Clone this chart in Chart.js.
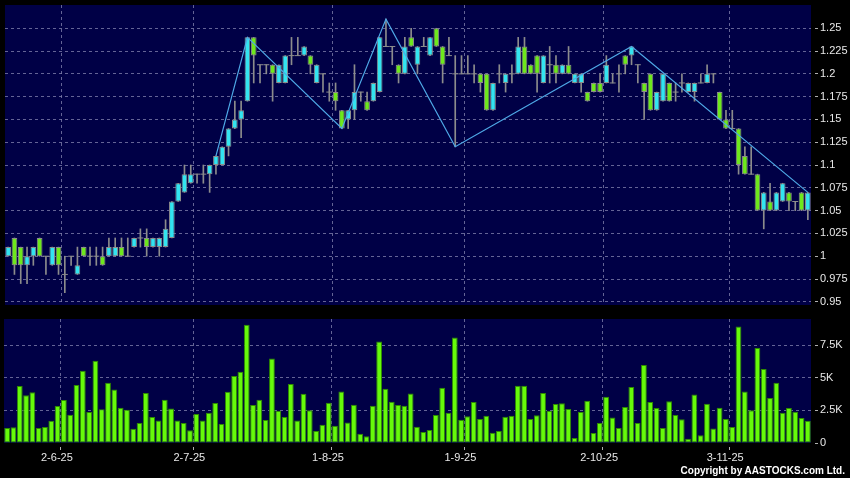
<!DOCTYPE html>
<html><head><meta charset="utf-8">
<script src="https://cdn.jsdelivr.net/npm/chart.js@4.4.1/dist/chart.umd.min.js"></script>
<style>
html,body{margin:0;padding:0;background:#000;width:850px;height:478px;overflow:hidden}
#wrap{position:relative;width:850px;height:478px;background:#000}
#pc{position:absolute;left:0;top:0}
#vc{position:absolute;left:0;top:310px}
#copy{position:absolute;right:5px;top:465px;font:bold 10px "Liberation Sans",Arial,sans-serif;color:#fff;white-space:nowrap}
</style></head><body>
<div id="wrap">
<canvas id="pc" width="850" height="310"></canvas>
<canvas id="vc" width="850" height="168"></canvas>
<div id="copy">Copyright by AASTOCKS.com Ltd.</div>
</div>
<script>
const dates = [
'20-5-25','21-5-25','22-5-25','23-5-25','26-5-25','27-5-25','28-5-25','29-5-25','30-5-25',
'2-6-25','3-6-25','4-6-25','5-6-25','6-6-25','9-6-25','10-6-25','11-6-25','12-6-25','13-6-25','16-6-25','17-6-25','18-6-25','19-6-25','20-6-25','23-6-25','24-6-25','25-6-25','26-6-25','27-6-25','30-6-25',
'2-7-25','3-7-25','4-7-25','7-7-25','8-7-25','9-7-25','10-7-25','11-7-25','14-7-25','15-7-25','16-7-25','17-7-25','18-7-25','21-7-25','22-7-25','23-7-25','24-7-25','25-7-25','28-7-25','29-7-25','30-7-25','31-7-25',
'1-8-25','4-8-25','5-8-25','6-8-25','7-8-25','8-8-25','11-8-25','12-8-25','13-8-25','14-8-25','15-8-25','18-8-25','19-8-25','20-8-25','21-8-25','22-8-25','25-8-25','26-8-25','27-8-25','28-8-25','29-8-25',
'1-9-25','2-9-25','3-9-25','4-9-25','5-9-25','8-9-25','9-9-25','10-9-25','11-9-25','12-9-25','15-9-25','16-9-25','17-9-25','18-9-25','19-9-25','22-9-25','23-9-25','24-9-25','25-9-25','26-9-25','29-9-25','30-9-25',
'2-10-25','3-10-25','6-10-25','8-10-25','9-10-25','10-10-25','13-10-25','14-10-25','15-10-25','16-10-25','17-10-25','20-10-25','21-10-25','22-10-25','23-10-25','24-10-25','27-10-25','28-10-25','30-10-25','31-10-25',
'3-11-25','4-11-25','5-11-25','6-11-25','7-11-25','10-11-25','11-11-25','12-11-25','13-11-25','14-11-25','17-11-25','18-11-25','19-11-25'
];
const openP = [
1.00,1.02,1.01,0.99,1.00,1.02,1.00,0.99,1.01,0.98,
1.00,0.98,1.01,1.00,1.00,1.00,1.00,1.00,1.01,1.00,
1.01,1.02,1.02,1.01,1.01,1.01,1.02,1.06,1.07,1.08,
1.09,1.09,1.09,1.10,1.10,1.12,1.14,1.15,1.17,1.24,
1.21,1.21,1.21,1.19,1.19,1.22,1.22,1.22,1.22,1.19,
1.20,1.18,1.18,1.16,1.15,1.16,1.18,1.17,1.17,1.18,
1.23,1.23,1.21,1.20,1.24,1.21,1.23,1.22,1.25,1.23,
1.22,1.20,1.20,1.20,1.20,1.20,1.20,1.16,1.20,1.19,
1.20,1.20,1.23,1.21,1.22,1.19,1.21,1.21,1.20,1.21,
1.19,1.19,1.18,1.19,1.19,1.19,1.19,1.20,1.22,1.22,
1.21,1.19,1.20,1.16,1.17,1.19,1.18,1.19,1.18,1.18,
1.19,1.19,1.20,1.18,1.15,1.14,1.14,1.11,1.09,1.09,
1.05,1.06,1.05,1.06,1.07,1.06,1.07,1.05
];
const highP = [
1.01,1.02,1.01,1.01,1.01,1.02,1.00,1.01,1.01,1.00,
1.00,1.01,1.01,1.01,1.01,1.01,1.02,1.02,1.02,1.02,
1.02,1.03,1.03,1.02,1.02,1.04,1.06,1.08,1.10,1.10,
1.09,1.10,1.10,1.11,1.12,1.14,1.17,1.17,1.24,1.24,
1.21,1.21,1.21,1.21,1.22,1.24,1.24,1.23,1.22,1.21,
1.20,1.19,1.19,1.16,1.16,1.21,1.18,1.18,1.19,1.24,
1.26,1.23,1.21,1.24,1.25,1.23,1.24,1.24,1.25,1.23,
1.24,1.22,1.22,1.22,1.21,1.20,1.20,1.19,1.21,1.20,
1.21,1.24,1.24,1.21,1.22,1.22,1.23,1.22,1.21,1.23,
1.20,1.20,1.18,1.19,1.20,1.22,1.20,1.21,1.22,1.23,
1.21,1.19,1.20,1.18,1.20,1.19,1.19,1.20,1.19,1.19,
1.20,1.21,1.20,1.18,1.16,1.16,1.14,1.12,1.12,1.09,
1.07,1.08,1.07,1.08,1.07,1.06,1.07,1.07
];
const lowP = [
1.00,0.98,0.97,0.97,0.99,1.00,0.98,0.99,0.98,0.96,
0.99,0.98,1.00,0.99,0.99,0.99,1.00,1.00,1.00,1.00,
1.01,1.01,1.00,1.01,1.00,1.01,1.02,1.06,1.07,1.08,
1.08,1.08,1.07,1.09,1.10,1.11,1.14,1.13,1.17,1.19,
1.19,1.20,1.17,1.19,1.19,1.21,1.22,1.22,1.20,1.19,
1.18,1.17,1.16,1.14,1.14,1.15,1.17,1.16,1.17,1.18,
1.23,1.21,1.19,1.20,1.23,1.20,1.23,1.22,1.23,1.19,
1.22,1.12,1.20,1.20,1.19,1.18,1.16,1.16,1.19,1.18,
1.19,1.20,1.20,1.20,1.18,1.19,1.19,1.19,1.20,1.20,
1.19,1.18,1.17,1.18,1.18,1.19,1.19,1.18,1.20,1.21,
1.19,1.15,1.16,1.16,1.17,1.17,1.17,1.18,1.18,1.17,
1.19,1.19,1.19,1.15,1.14,1.14,1.09,1.09,1.09,1.05,
1.03,1.05,1.05,1.06,1.05,1.05,1.05,1.04
];
const closeP = [
1.01,0.99,0.99,1.00,1.01,1.00,1.00,1.01,0.99,0.98,
1.00,0.99,1.00,1.00,1.00,0.99,1.01,1.01,1.00,1.00,
1.02,1.02,1.01,1.02,1.02,1.03,1.06,1.08,1.09,1.09,
1.09,1.09,1.10,1.11,1.12,1.14,1.15,1.16,1.24,1.22,
1.21,1.21,1.20,1.21,1.22,1.22,1.22,1.23,1.21,1.21,
1.20,1.18,1.17,1.14,1.16,1.18,1.18,1.16,1.19,1.24,
1.23,1.23,1.20,1.23,1.23,1.23,1.23,1.24,1.23,1.21,
1.22,1.20,1.20,1.20,1.20,1.19,1.16,1.19,1.20,1.20,
1.20,1.23,1.20,1.20,1.20,1.22,1.21,1.20,1.21,1.20,
1.20,1.20,1.17,1.18,1.18,1.21,1.19,1.20,1.21,1.23,
1.21,1.18,1.16,1.18,1.20,1.17,1.18,1.19,1.19,1.19,
1.19,1.20,1.20,1.15,1.14,1.14,1.10,1.09,1.09,1.05,
1.07,1.05,1.07,1.08,1.06,1.06,1.05,1.07
];
const volumeK = [
1.15,1.20,4.36,3.65,3.88,1.15,1.22,1.71,2.83,3.29,
2.17,4.44,5.54,2.37,6.30,2.58,4.62,4.10,2.70,2.55,
1.10,1.53,3.83,1.99,1.73,3.32,2.65,1.73,1.53,0.97,
2.22,1.73,2.32,3.06,1.45,3.93,5.13,5.46,9.06,2.91,
3.32,1.76,6.48,2.47,1.99,4.52,1.73,3.78,2.50,0.92,
1.40,3.09,1.33,3.95,1.58,2.93,0.71,0.51,2.86,7.78,
4.16,3.16,2.91,2.86,3.80,1.25,0.84,1.00,2.14,4.23,
2.32,8.09,1.79,2.04,3.14,1.84,2.09,0.79,0.92,2.02,
2.09,4.39,4.39,1.84,2.12,3.83,2.47,2.98,3.04,2.60,
0.38,2.37,3.24,0.77,1.53,3.55,1.96,1.15,2.76,4.29,
1.53,5.97,3.14,2.68,1.15,3.19,2.14,1.81,0.33,3.72,
0.59,3.01,1.12,2.70,1.84,1.22,8.93,3.95,2.50,7.27,
5.66,3.44,4.62,2.32,2.68,2.40,1.91,1.71
];
const zigIdx = [33, 38, 53, 60, 71, 99, 127];
const zigVal = [1.11, 1.24, 1.14, 1.26, 1.12, 1.23, 1.07];
const xTickLabels = ['2-6-25','2-7-25','1-8-25','1-9-25','2-10-25','3-11-25'];
const priceTicks = [0.95,0.975,1,1.025,1.05,1.075,1.1,1.125,1.15,1.175,1.2,1.225,1.25];
const volTicks = [0, 2.5, 5, 7.5];

const FONT = '"Liberation Sans", Arial, sans-serif';
const UP = '#33e4f0', DOWN = '#6ee81c', EDGE = '#8c8c8c';
const NAVY = '#000046', GRID = 'rgba(125,125,170,0.8)', TXT = '#e8e8e8', TICK = '#b0b0b0';
const CLEAR = 'rgba(0,0,0,0)';
Chart.defaults.font.family = FONT;

const navyBg = { id: 'navyBg', beforeDraw(c) {
  const a = c.chartArea, x = c.ctx;
  x.save(); x.fillStyle = NAVY; x.fillRect(a.left, a.top, a.right - a.left, a.bottom - a.top); x.restore();
}};

const isMarked = ctx => ctx.index !== undefined && ctx.index < dates.length && xTickLabels.includes(dates[ctx.index]);

function xScale(showLabels) {
  return {
    type: 'category', offset: true,
    grid: { offset: true, color: ctx => isMarked(ctx) ? GRID : CLEAR, tickColor: ctx => isMarked(ctx) ? TICK : CLEAR,
            drawTicks: showLabels, tickLength: 7, tickBorderDash: [3, 4], tickBorderDashOffset: 3, lineWidth: 1 },
    border: { display: false, dash: [3, 3] },
    ticks: { display: showLabels, autoSkip: false, maxRotation: 0, minRotation: 0, color: TXT,
             font: { family: FONT, size: 11 }, padding: 1, labelOffset: -7,
             callback: (v, i) => xTickLabels.includes(dates[i]) ? dates[i] : '' },
    afterFit: s => { s.height = showLabels ? 35 : 0; s.paddingLeft = 0; s.paddingRight = 0; }
  };
}

function yScale(min, max, ticksArr, fmt) {
  return {
    position: 'right', min: min, max: max,
    afterBuildTicks: s => { s.ticks = ticksArr.map(v => ({ value: v })); },
    afterFit: s => { s.width = 39; s.paddingTop = 0; s.paddingBottom = 0; },
    grid: { color: ctx => (ctx.tick && ctx.tick.value === 0) ? CLEAR : GRID, tickColor: TICK, tickLength: 7,
            tickBorderDash: [3, 4], tickBorderDashOffset: 3, lineWidth: 1 },
    border: { display: false, dash: [3, 3] },
    ticks: { color: TXT, font: { family: FONT, size: 11 }, padding: 2, callback: fmt }
  };
}

new Chart(document.getElementById('pc'), {
  type: 'bar',
  data: {
    labels: dates,
    datasets: [
      { type: 'line', data: zigIdx.map((k, j) => ({ x: dates[k], y: zigVal[j] })),
        borderColor: '#4ea8e6', borderWidth: 1.2, pointRadius: 0, tension: 0, order: 0 },
      { type: 'line', data: closeP.map((c, i) => c === openP[i] ? c : null), showLine: false,
        pointStyle: 'line', pointRadius: 3, pointBorderColor: EDGE, pointBorderWidth: 1, order: 1 },
      { type: 'bar', data: dates.map((d, i) => [openP[i], closeP[i]]), grouped: false,
        barPercentage: 0.9, categoryPercentage: 1, borderWidth: 1, borderSkipped: false,
        backgroundColor: ctx => closeP[ctx.dataIndex] > openP[ctx.dataIndex] ? UP : (closeP[ctx.dataIndex] < openP[ctx.dataIndex] ? DOWN : CLEAR),
        borderColor: ctx => closeP[ctx.dataIndex] === openP[ctx.dataIndex] ? CLEAR : EDGE, order: 2 },
      { type: 'bar', data: dates.map((d, i) => [lowP[i], highP[i]]), grouped: false,
        barThickness: 1, backgroundColor: EDGE, order: 3 }
    ]
  },
  options: {
    responsive: false, animation: false, devicePixelRatio: 1,
    layout: { padding: { left: 4, right: 0, top: 5, bottom: 5 } },
    plugins: { legend: { display: false }, tooltip: { enabled: false } },
    scales: {
      x: xScale(false),
      y: yScale(0.9465, 1.2755, priceTicks, v => String(v))
    }
  },
  plugins: [navyBg]
});

new Chart(document.getElementById('vc'), {
  type: 'bar',
  data: {
    labels: dates,
    datasets: [
      { data: volumeK, backgroundColor: '#66fa0a', borderColor: '#2f8c00', borderWidth: 1, borderSkipped: false,
        barPercentage: 0.92, categoryPercentage: 1 }
    ]
  },
  options: {
    responsive: false, animation: false, devicePixelRatio: 1,
    layout: { padding: { left: 4, right: 0, top: 9, bottom: 0 } },
    plugins: { legend: { display: false }, tooltip: { enabled: false } },
    scales: {
      x: xScale(true),
      y: yScale(0, 9.5, volTicks, v => v === 0 ? '0' : v + 'K')
    }
  },
  plugins: [navyBg]
});
</script>
</body></html>
